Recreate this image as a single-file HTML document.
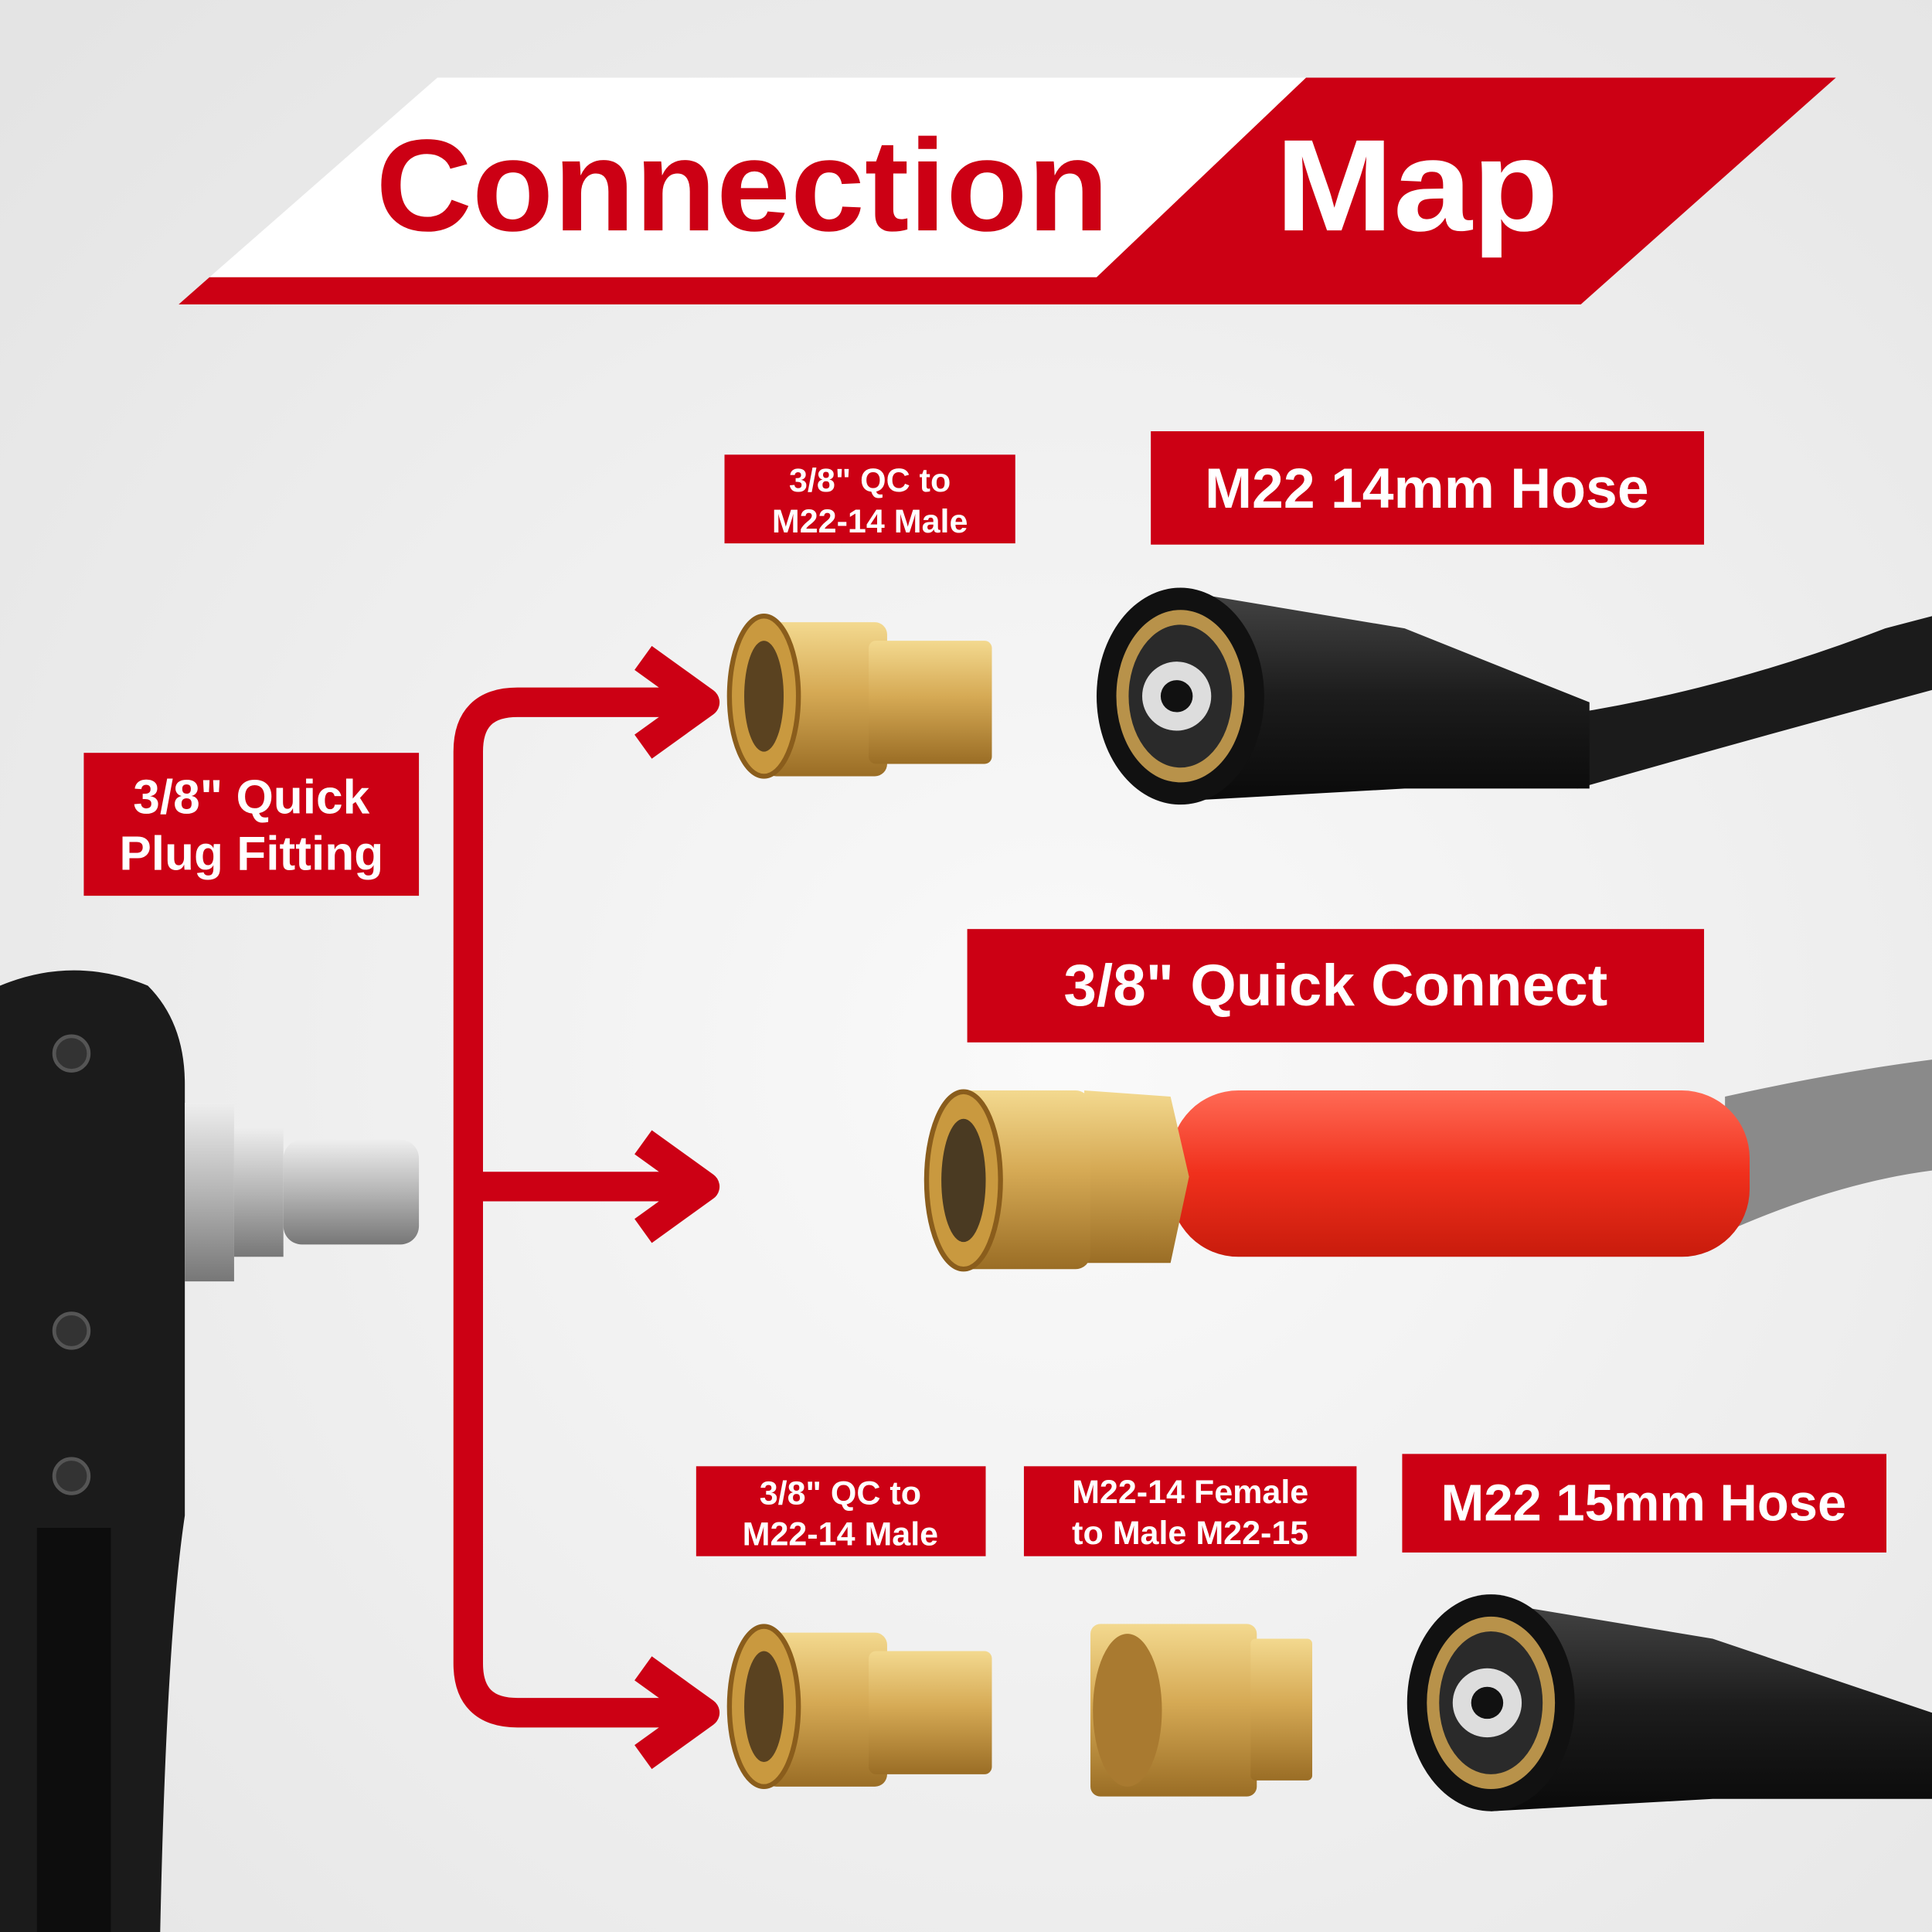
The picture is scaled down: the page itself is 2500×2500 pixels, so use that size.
<!DOCTYPE html>
<html><head><meta charset="utf-8"><style>
html,body{margin:0;padding:0;width:2500px;height:2500px;overflow:hidden;background:#f0f0f0}
svg{display:block}
text{font-family:"Liberation Sans",sans-serif;font-weight:bold}
</style></head><body>
<svg width="2500" height="2500" viewBox="0 0 1568 1568" xmlns="http://www.w3.org/2000/svg">
<defs>
<radialGradient id="bg" cx="0.55" cy="0.55" r="0.75">
<stop offset="0" stop-color="#fafafa"/><stop offset="1" stop-color="#e4e4e4"/></radialGradient>
<linearGradient id="brass" x1="0" y1="0" x2="0" y2="1">
<stop offset="0" stop-color="#f3d98f"/><stop offset="0.45" stop-color="#d6aa55"/><stop offset="1" stop-color="#9a6d25"/></linearGradient>
<linearGradient id="blk" x1="0" y1="0" x2="0" y2="1">
<stop offset="0" stop-color="#444"/><stop offset="0.5" stop-color="#1c1c1c"/><stop offset="1" stop-color="#0a0a0a"/></linearGradient>
<linearGradient id="redh" x1="0" y1="0" x2="0" y2="1">
<stop offset="0" stop-color="#ff6a55"/><stop offset="0.5" stop-color="#f0301c"/><stop offset="1" stop-color="#c81b0c"/></linearGradient>
<linearGradient id="steel" x1="0" y1="0" x2="0" y2="1">
<stop offset="0" stop-color="#eee"/><stop offset="0.5" stop-color="#b5b5b5"/><stop offset="1" stop-color="#777"/></linearGradient>
</defs>
<rect width="1568" height="1568" fill="url(#bg)"/>

<!-- banner -->
<polygon points="355,63 1060,63 890,225 170,225" fill="#fff"/>
<polygon points="1060,63 1490,63 1283,247 145,247 170,225 890,225" fill="#cc0014"/>
<text x="305" y="187" font-size="106" fill="#cc0014" textLength="595" lengthAdjust="spacingAndGlyphs">Connection</text>
<text x="1035" y="187" font-size="106" fill="#fff" textLength="230" lengthAdjust="spacingAndGlyphs">Map</text>

<!-- connector -->
<g fill="none" stroke="#cc0014" stroke-width="24" stroke-linejoin="round" stroke-linecap="butt">
<path d="M570,570 H420 Q380,570 380,610 V1350 Q380,1390 420,1390 H570"/>
<path d="M380,963 H570"/>
<path d="M522,534 L572,570 L522,606"/>
<path d="M522,927 L572,963 L522,999"/>
<path d="M522,1354 L572,1390 L522,1426"/>
</g>

<!-- labels -->
<g fill="#cc0014">
<rect x="588" y="369" width="236" height="72"/>
<rect x="934" y="350" width="449" height="92"/>
<rect x="68" y="611" width="272" height="116"/>
<rect x="785" y="754" width="598" height="92"/>
<rect x="565" y="1190" width="235" height="73"/>
<rect x="831" y="1190" width="270" height="73"/>
<rect x="1138" y="1180" width="393" height="80"/>
</g>
<g fill="#fff" text-anchor="middle">
<text x="706" y="399" font-size="27">3/8" QC to</text>
<text x="706" y="432" font-size="27">M22-14 Male</text>
<text x="1158" y="412" font-size="46">M22 14mm Hose</text>
<text x="204" y="660" font-size="39">3/8" Quick</text>
<text x="204" y="706" font-size="39">Plug Fitting</text>
<text x="1084" y="816" font-size="48">3/8" Quick Connect</text>
<text x="682" y="1221" font-size="27">3/8" QC to</text>
<text x="682" y="1254" font-size="27">M22-14 Male</text>
<text x="966" y="1220" font-size="27">M22-14 Female</text>
<text x="966" y="1253" font-size="27">to Male M22-15</text>
<text x="1334" y="1234" font-size="42">M22 15mm Hose</text>
</g>

<!-- gun -->
<path d="M0,800 Q60,775 120,800 Q150,830 150,880 L150,1230 Q135,1330 130,1568 L0,1568 Z" fill="#1b1b1b"/>
<rect x="30" y="1240" width="60" height="328" fill="#0d0d0d"/>
<circle cx="58" cy="855" r="14" fill="#333" stroke="#555" stroke-width="3"/>
<circle cx="58" cy="1080" r="14" fill="#333" stroke="#555" stroke-width="3"/>
<circle cx="58" cy="1198" r="14" fill="#333" stroke="#555" stroke-width="3"/>
<polygon points="150,895 190,895 190,1040 150,1040" fill="url(#steel)"/>
<rect x="190" y="915" width="40" height="105" fill="url(#steel)"/>
<rect x="230" y="925" width="110" height="85" rx="15" fill="url(#steel)"/>

<!-- top brass coupler -->
<rect x="620" y="505" width="100" height="125" rx="10" fill="url(#brass)"/>
<rect x="705" y="520" width="100" height="100" rx="6" fill="url(#brass)"/>
<ellipse cx="620" cy="565" rx="28" ry="65" fill="#c9993f" stroke="#8a5d1c" stroke-width="4"/>
<ellipse cx="620" cy="565" rx="16" ry="45" fill="#5a4220"/>

<!-- top hose fitting -->
<path d="M1270,580 Q1400,560 1530,510 L1568,500 L1568,560 Q1420,600 1280,640 Z" fill="#1b1b1b"/>
<path d="M960,480 L1140,510 L1290,570 L1290,640 L1140,640 L960,650 Z" fill="url(#blk)"/>
<ellipse cx="958" cy="565" rx="68" ry="88" fill="#111"/>
<ellipse cx="958" cy="565" rx="52" ry="70" fill="#b8924a"/>
<ellipse cx="958" cy="565" rx="42" ry="58" fill="#2a2a2a"/>
<circle cx="955" cy="565" r="28" fill="#ddd"/>
<circle cx="955" cy="565" r="13" fill="#111"/>

<!-- middle quick connect -->
<path d="M1400,890 Q1490,870 1568,860 L1568,950 Q1490,960 1400,1000 Z" fill="#8a8a8a"/>
<rect x="950" y="885" width="470" height="135" rx="55" fill="url(#redh)"/>
<polygon points="880,885 950,890 965,955 950,1025 880,1025" fill="url(#brass)"/>
<rect x="775" y="885" width="110" height="145" rx="12" fill="url(#brass)"/>
<ellipse cx="782" cy="958" rx="30" ry="72" fill="#c9993f" stroke="#8a5d1c" stroke-width="4"/>
<ellipse cx="782" cy="958" rx="18" ry="50" fill="#4a3a22"/>

<!-- bottom brass coupler -->
<rect x="620" y="1325" width="100" height="125" rx="10" fill="url(#brass)"/>
<rect x="705" y="1340" width="100" height="100" rx="6" fill="url(#brass)"/>
<ellipse cx="620" cy="1385" rx="28" ry="65" fill="#c9993f" stroke="#8a5d1c" stroke-width="4"/>
<ellipse cx="620" cy="1385" rx="16" ry="45" fill="#5a4220"/>

<!-- adapter -->
<rect x="885" y="1318" width="135" height="140" rx="8" fill="url(#brass)"/>
<rect x="1015" y="1330" width="50" height="115" rx="4" fill="url(#brass)"/>
<ellipse cx="915" cy="1388" rx="28" ry="62" fill="#a97a30"/>

<!-- bottom hose fitting -->
<path d="M1210,1300 L1390,1330 L1568,1390 L1568,1460 L1390,1460 L1210,1470 Z" fill="url(#blk)"/>
<ellipse cx="1210" cy="1382" rx="68" ry="88" fill="#111"/>
<ellipse cx="1210" cy="1382" rx="52" ry="70" fill="#b8924a"/>
<ellipse cx="1210" cy="1382" rx="42" ry="58" fill="#2a2a2a"/>
<circle cx="1207" cy="1382" r="28" fill="#ddd"/>
<circle cx="1207" cy="1382" r="13" fill="#111"/>
</svg>
</body></html>
